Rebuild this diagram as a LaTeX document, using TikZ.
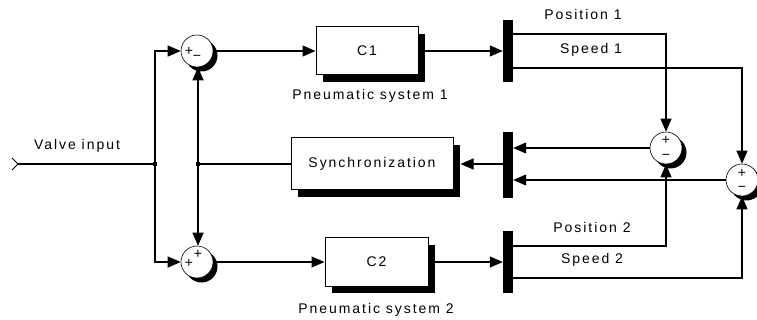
\documentclass[tikz,border=0pt]{standalone}
\usepackage{fontspec}
\newfontfamily\lblfont{Liberation Sans}[LetterSpace=14]
\newfontfamily\sgnfont{Liberation Sans}
\usetikzlibrary{arrows.meta,shadows}
\tikzset{
  blk/.style={draw, line width=1pt, fill=white, inner sep=0pt,
    drop shadow={shadow xshift=7pt, shadow yshift=-7pt, opacity=1, fill=black},
    font=\lblfont\fontsize{14}{16}\selectfont},
  sumb/.style={circle, draw, line width=0.6pt, fill=white, minimum size=32pt, inner sep=0pt,
    drop shadow={shadow xshift=4.5pt, shadow yshift=-4.5pt, opacity=1, fill=black}},
  barb/.style={fill=black, draw=none, minimum width=10pt, inner sep=0pt},
  wire/.style={line width=1.2pt},
  sig/.style={line width=1.2pt, -{Triangle[length=13pt,width=11pt]}},
  lbl/.style={font=\lblfont\fontsize{14}{16}\selectfont, inner sep=0pt},
  sgn/.style={font=\sgnfont\fontsize{14}{14}\selectfont, inner sep=0pt},
  dotj/.style={fill=black, minimum size=4pt, inner sep=0pt},
}
\begin{document}
\begin{tikzpicture}[x=1pt, y=-1pt]
\useasboundingbox (0,0) rectangle (757,320);
% blocks
\node[sumb] (s1) at (197,51) {};
\node[sumb] (s2) at (197,262) {};
\node[sumb] (s3) at (666,148) {};
\node[sumb] (s4) at (742,180) {};
\node[blk, minimum width=102pt, minimum height=48pt] (c1) at (367,51) {C1};
\node[blk, minimum width=103pt, minimum height=48pt] (c2) at (376.5,262) {C2};
\node[blk, minimum width=162pt, minimum height=52pt] (sync) at (372,164) {Synchronization};
\node[barb, minimum height=62pt] (dm1) at (508,51) {};
\node[barb, minimum height=66pt] (mx3) at (508,165) {};
\node[barb, minimum height=62pt] (dm2) at (508,262) {};
% signs
\node[sgn] at (189,51) {+};
\node[sgn] at (197,58) {−};
\node[sgn] at (189,263) {+};
\node[sgn] at (198,254) {+};
\node[sgn] at (666,140) {+};
\node[sgn] at (666,157) {−};
\node[sgn] at (742,173) {+};
\node[sgn] at (742,189) {−};
% labels
\node[lbl] (lv) at (77,146) {Valve input};
\node[lbl] (lp1) at (370,96) {Pneumatic system 1};
\node[lbl] (lp2) at (376,310) {Pneumatic system 2};
\node[lbl] (lpos1) at (583,15) {Position 1};
\node[lbl] (lsp1) at (591,50) {Speed 1};
\node[lbl] (lpos2) at (592,227) {Position 2};
\node[lbl] (lsp2) at (592,260) {Speed 2};
% inport
\coordinate (vin) at (18,164);
\draw[line width=0.8pt] (12,158) -- (vin) -- (12,170);
% junctions
\node[dotj] (j1) at (155,164) {};
\node[dotj] (j2) at (198,164) {};
\draw[wire] (vin) -- (j1.center);
\draw[sig] (j1.center) |- (s1.west);
\draw[sig] (j1.center) |- (s2.west);
\draw[wire] (sync.west) -- (j2.center);
\draw[sig] (j2.center) -- (s1.south -| j2.center);
\draw[sig] (j2.center) -- (s2.north -| j2.center);
\draw[sig] (s1.east) -- (c1.west);
\draw[sig] (s2.east) -- (c2.west);
\draw[sig] (c1.east) -- (dm1.west);
\draw[sig] (c2.east) -- (dm2.west);
% demux outputs
\coordinate (b1) at (666,34);
\coordinate (b2) at (742,68);
\coordinate (b3) at (666,246);
\coordinate (b4) at (742,278);
\draw[sig] (b1 -| dm1.east) -- (b1) -- (s3.north);
\draw[sig] (b2 -| dm1.east) -- (b2) -- (s4.north);
\draw[sig] (b3 -| dm2.east) -- (b3) -- (s3.south);
\draw[sig] (b4 -| dm2.east) -- (b4) -- (s4.south);
\draw[sig] (s3.west) -- (s3.west -| mx3.east);
\draw[sig] (s4.west) -- (s4.west -| mx3.east);
\coordinate (syncsh) at ([xshift=7pt]sync.east);
\draw[sig] (mx3.west |- sync.east) -- (syncsh);
\end{tikzpicture}
\end{document}
